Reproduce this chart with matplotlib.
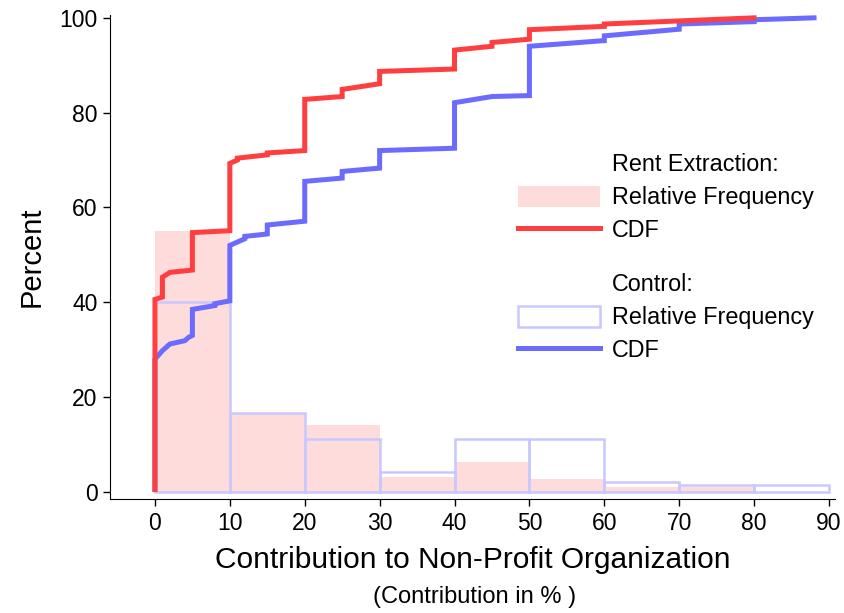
import matplotlib.pyplot as plt
import numpy as np
from matplotlib.patches import Patch
from matplotlib.lines import Line2D

plt.rcParams['font.family'] = ['Liberation Sans', 'DejaVu Sans']

# histogram bins (contribution in %), left edges
bin_edges = [0, 10, 20, 30, 40, 50, 60, 70, 80]
rent_freq = [55.0, 16.7, 14.2, 3.2, 6.3, 2.8, 1.1, 1.1, 0.0]
control_freq = [40.0, 16.7, 11.2, 4.3, 11.2, 11.2, 2.1, 1.4, 1.4]

rent_cdf_x = [0, 0, 1, 1, 2, 5, 5, 10, 10, 11, 11, 15, 15, 20, 20, 25, 25, 30, 30,
              40, 40, 45, 45, 50, 50, 60, 60, 80]
rent_cdf_y = [0.5, 40.6, 41.1, 45.3, 46.3, 46.8, 54.7, 55.1, 69.3, 70.0, 70.4, 71.1,
              71.5, 72.0, 82.8, 83.4, 84.9, 86.1, 88.7, 89.2, 93.2, 94.0, 94.8, 95.5,
              97.5, 98.2, 98.7, 100.0]
control_cdf_x = [0, 0, 1, 2, 4, 4.5, 5, 5, 8, 8, 10, 10, 12, 12, 15, 15, 20, 20, 25, 25,
                 30, 30, 40, 40, 45, 50, 50, 60, 60, 70, 70, 80, 80, 88]
control_cdf_y = [0.5, 28.0, 29.8, 31.2, 31.9, 32.6, 33.0, 38.5, 39.3, 39.7, 40.3, 52.0,
                 53.4, 53.9, 54.4, 56.3, 57.1, 65.5, 66.2, 67.6, 68.3, 72.0, 72.5, 82.1,
                 83.4, 83.6, 94.0, 95.2, 96.2, 97.6, 98.7, 99.2, 99.6, 100.0]

red = '#ff3f3f'
blue = '#6b6bff'
pink = '#ffdcdc'
lilac = '#c8c8ff'

fig = plt.figure(figsize=(8.45, 6.13), dpi=100)
ax = fig.add_axes([110 / 845, 1 - 499 / 613, 725 / 845, 484 / 613])

ax.bar(bin_edges, rent_freq, width=10, align='edge', color=pink, linewidth=0)
ax.bar(bin_edges, control_freq, width=10, align='edge', facecolor='none',
       edgecolor=lilac, linewidth=1.8)
ax.plot(control_cdf_x, control_cdf_y, color=blue, linewidth=3.6, solid_joinstyle='miter')
ax.plot(rent_cdf_x, rent_cdf_y, color=red, linewidth=3.6, solid_joinstyle='miter')

ax.set_xlim(-6, 90.8)
ax.set_ylim(-1.5, 100.6)
ax.set_xticks(np.arange(0, 91, 10))
ax.set_yticks(np.arange(0, 101, 20))
ax.tick_params(direction='out', length=5, width=1, labelsize=16.5, pad=4)
for s in ['top', 'right']:
    ax.spines[s].set_visible(False)

ax.set_ylabel('Percent', fontsize=21, labelpad=10)
ax.set_xlabel('Contribution to Non-Profit Organization', fontsize=21.5, labelpad=8)
fig.text(475 / 845, 1 - 597 / 613, '(Contribution in % )', fontsize=17,
         ha='center', va='center')

blank = Line2D([], [], color='none')
leg_kw = dict(loc='upper left', frameon=False, fontsize=16.8, handlelength=3.5,
              handleheight=1.0, handletextpad=0.5, labelspacing=0.41,
              borderpad=0, borderaxespad=0)
leg1 = ax.legend([blank, Patch(facecolor=pink, edgecolor='none'),
                  Line2D([], [], color=red, linewidth=3.6)],
                 ['Rent Extraction:', 'Relative Frequency', 'CDF'],
                 bbox_to_anchor=(0.563, 0.715), **leg_kw)
ax.add_artist(leg1)
ax.legend([blank, Patch(facecolor='white', edgecolor=lilac, linewidth=1.8),
           Line2D([], [], color=blue, linewidth=3.6)],
          ['Control:', 'Relative Frequency', 'CDF'],
          bbox_to_anchor=(0.563, 0.467), **leg_kw)

fig.savefig('out.png', dpi=100)
